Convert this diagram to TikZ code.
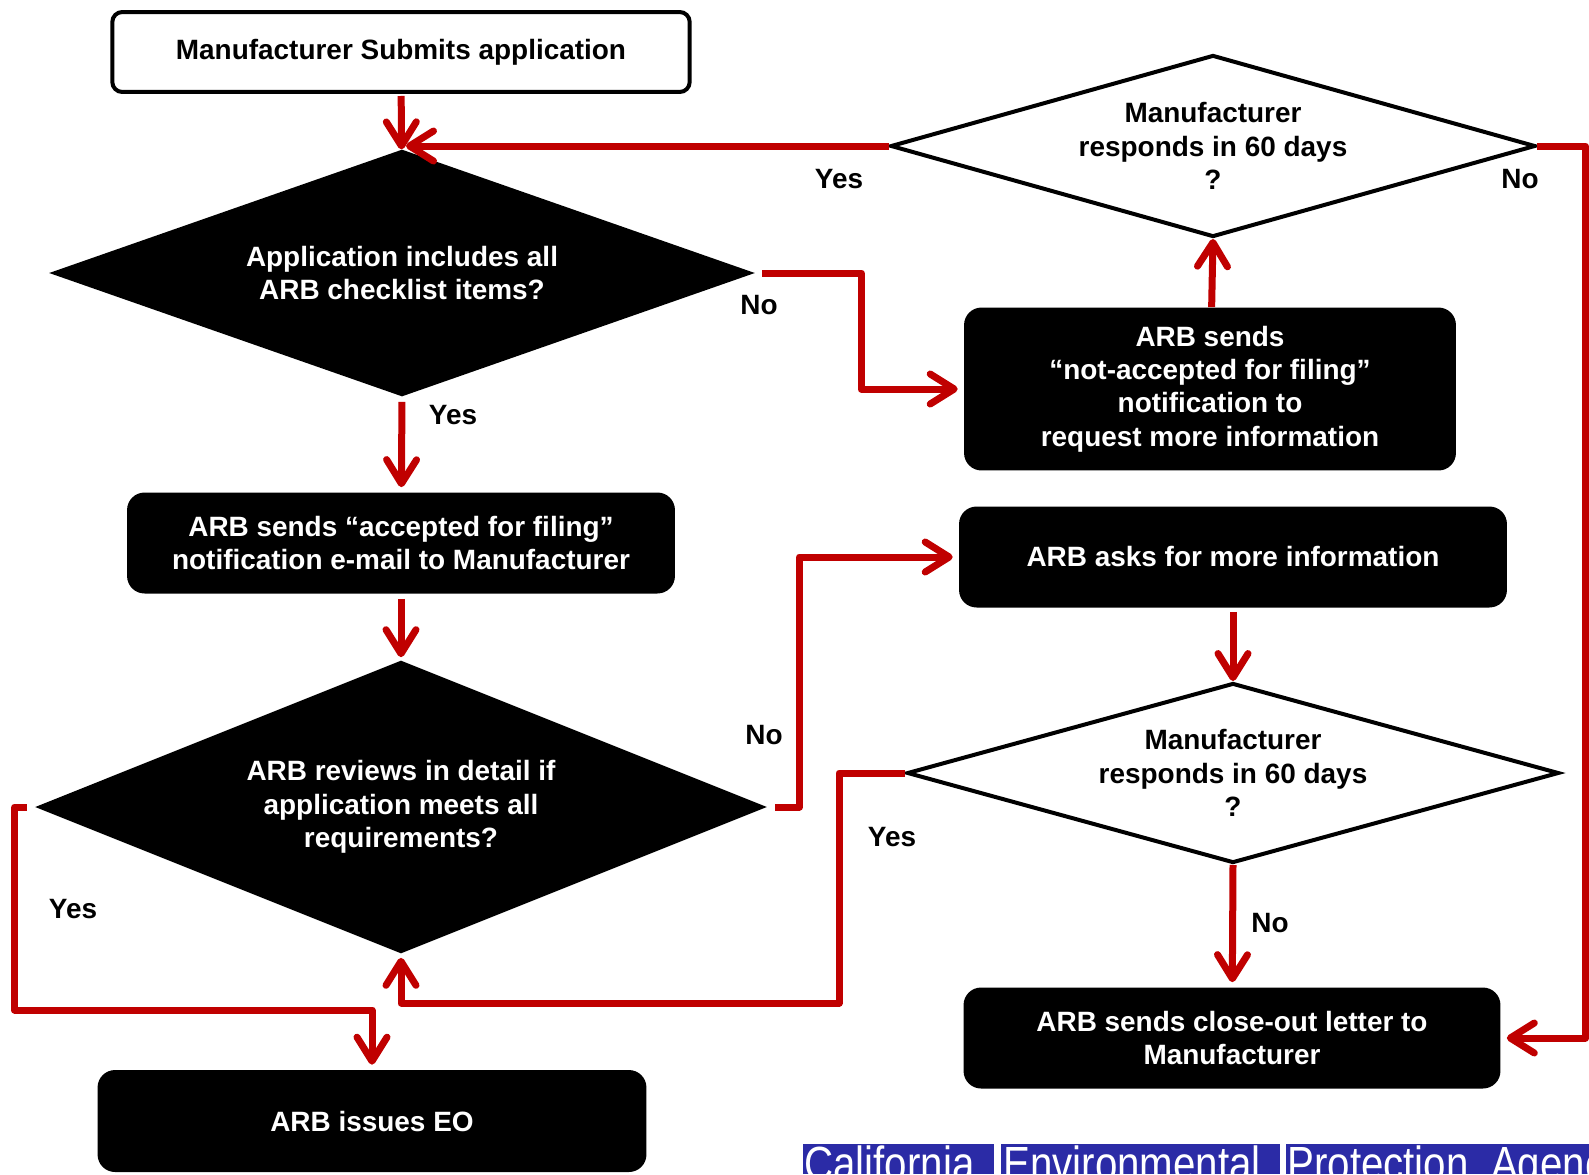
\documentclass[tikz,border=0pt]{standalone}
\usepackage{fontspec}
\setmainfont{Liberation Sans}
\usepackage{xcolor}
\usetikzlibrary{positioning,shapes.geometric,arrows.meta}
\definecolor{arbred}{HTML}{C00000}
\definecolor{calblue}{HTML}{2B2BA6}

\begin{document}
\begin{tikzpicture}[x=0.02cm, y=-0.02cm,
    every node/.style={font=\fontsize{15.9}{19}\selectfont\bfseries},
    startbox/.style={rectangle, rounded corners=0.2cm, draw=black, line width=0.08cm, fill=white, minimum width=11.55cm, minimum height=1.6cm},
    stepbox/.style={rectangle, rounded corners=0.35cm, fill=black, text=white, align=center, minimum height=2.02cm},
    blackdia/.style={diamond, aspect=2.8, fill=black, text=white, align=center, inner sep=0pt},
    whitedia/.style={diamond, aspect=3.5, draw=black, line width=0.08cm, fill=white, align=center, inner sep=0pt},
    answer/.style={text=black},
    arrow/.style={draw=arbred, line width=0.14cm, line join=round, -{Straight Barb[round, length=0.48cm, width=0.6cm]}},
    bannertext/.style={font=\fontsize{27.3}{27.3}\selectfont, text=white, inner sep=0pt, xscale=0.84, transform shape}
]
\useasboundingbox (0,0) rectangle (1589,1174);

% Left column
\node[startbox] (submit) at (401,52) {Manufacturer Submits application};
\node[blackdia, minimum width=14.12cm, minimum height=4.94cm] (check) at (402,273) {Application includes all\\ARB checklist items?};
\node[stepbox, minimum width=10.96cm] (accepted) at (401,543) {ARB sends “accepted for filing”\\notification e-mail to Manufacturer};
\node[blackdia, aspect=2.5, minimum width=14.64cm, minimum height=5.86cm] (review) at (401,807) {ARB reviews in detail if\\application meets all\\requirements?};
\node[stepbox, minimum width=10.98cm, minimum height=2.04cm] (issue) at (372,1121) {ARB issues EO};

% Right column
\node[whitedia, minimum width=12.9cm, minimum height=3.64cm] (respondA) at (1213,146) {Manufacturer\\responds in 60 days\\?};
\node[stepbox, minimum width=9.84cm, minimum height=3.26cm] (notaccepted) at (1210,389) {ARB sends\\“not-accepted for filing”\\notification to\\request more information};
\node[stepbox, minimum width=10.96cm] (asks) at (1233,557) {ARB asks for more information};
\node[whitedia, minimum width=13.04cm, minimum height=3.6cm] (respondB) at (1233,773) {Manufacturer\\responds in 60 days\\?};
\node[stepbox, minimum width=10.74cm] (closeout) at (1232,1038) {ARB sends close-out letter to\\Manufacturer};

% Connectors
\draw[arrow, shorten <=0.04cm] (submit) -- (check);
\draw[arrow, shorten >=0.08cm] (respondA.west) -- (check.north |- respondA.west);
\draw[arrow, shorten >=0.12cm] (respondA.east) -- ++(48,0) |- (closeout.east);
\draw[arrow] (notaccepted) -- (respondA.south);
\draw[arrow, shorten <=0.14cm] (check.east) -- ++(106,0) |- ([xshift=-0.12cm]notaccepted.west);
\draw[arrow, shorten <=0.1cm, shorten >=0.1cm] (check.south) -- (accepted);
\draw[arrow, shorten <=0.1cm, shorten >=0.06cm] (accepted) -- (review.north);
\draw[arrow, shorten <=0.16cm] (review.east) -- ++(32,0) |- ([xshift=-0.12cm]asks.west);
\draw[arrow, shorten <=0.16cm, shorten >=0.1cm] (review.west) -- ++(-20,0) -- ++(0,203) -| (issue.north);
\draw[arrow, shorten <=0.08cm] (asks) -- (respondB.north);
\draw[arrow, shorten >=0.08cm] (respondB.west) -- ++(-66,0) -- ++(0,230) -| (review.south);
\draw[arrow, shorten >=0.1cm] (respondB.south) -- (closeout);

% Answers
\node[answer] (yesA) at (839,179) {Yes};
\node[answer] (noA) at (1520,179) {No};
\node[answer] (noCheck) at (759,305) {No};
\node[answer] (yesCheck) at (453,415) {Yes};
\node[answer] (noReview) at (764,735) {No};
\node[answer] (yesReview) at (73,909) {Yes};
\node[answer] (yesB) at (892,837) {Yes};
\node[answer] (noB) at (1270,923) {No};

% Banner
\fill[calblue] (803,1144) rectangle (1589,1174);
\fill[white] (994,1144) rectangle (1001,1174);
\fill[white] (1280,1144) rectangle (1286,1174);
\begin{scope}
\clip (803,1144) rectangle (1589,1174);
\node[bannertext, anchor=base west] (calif) at (804,1180) {California};
\node[bannertext, anchor=base west] (environ) at (1003,1180) {Environmental};
\node[bannertext, anchor=base west] (protect) at (1287,1180) {Protection\ \ Agency};
\end{scope}
\end{tikzpicture}
\end{document}
